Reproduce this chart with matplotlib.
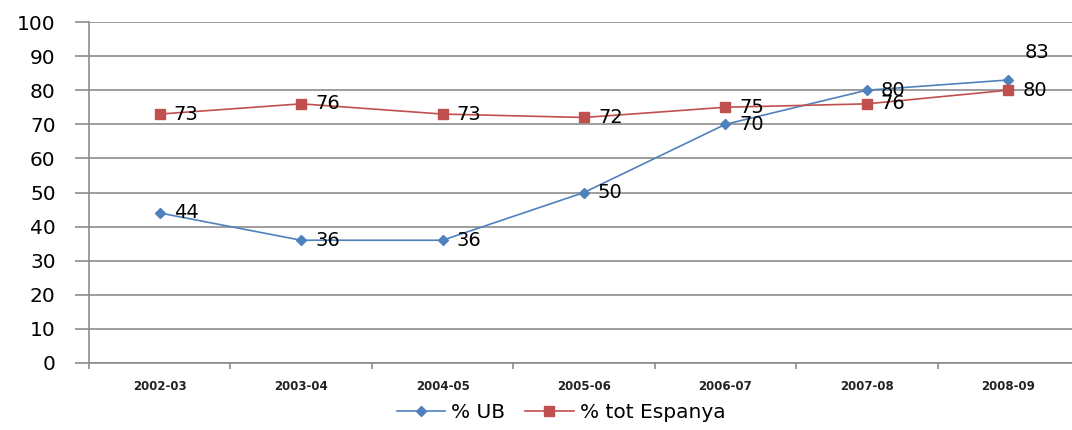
import matplotlib.pyplot as plt
import numpy as np

cursos = ['2002-03', '2003-04', '2004-05', '2005-06', '2006-07', '2007-08', '2008-09']
pct_ub = [44, 36, 36, 50, 70, 80, 83]
pct_espanya = [73, 76, 73, 72, 75, 76, 80]

blue = '#4F81BD'
red = '#C0504D'
grid_col = '#8C8C8C'

fig = plt.figure(figsize=(10.72, 4.30), dpi=100)
ax = fig.add_axes([89 / 1072, 1 - 363 / 430, 990 / 1072, 341 / 430])

x = np.arange(len(cursos))
ax.plot(x, pct_ub, color=blue, lw=1.2, marker='D', ms=5.5, label='% UB')
ax.plot(x, pct_espanya, color=red, lw=1.2, marker='s', ms=7.5, label='% tot Espanya')

# data labels to the right of each point
for xi, v in zip(x, pct_espanya):
    ax.annotate(str(v), (xi, v), xytext=(10, 0), textcoords='offset points',
                va='center', ha='left', fontsize=14)
for xi, v in zip(x, pct_ub):
    off = (12, 20) if xi == len(x) - 1 else (10, 0)
    ax.annotate(str(v), (xi, v), xytext=off, textcoords='offset points',
                va='center', ha='left', fontsize=14)

ax.set_xlim(-0.5, len(cursos) - 0.5)
ax.set_ylim(0, 100)
ax.set_yticks(range(0, 101, 10))
ax.tick_params(axis='y', length=10, color=grid_col, width=1.2, labelsize=14.5, pad=14)
ax.yaxis.grid(True, color=grid_col, lw=1.2)
ax.set_axisbelow(True)

ax.set_xticks(x)
ax.set_xticklabels(cursos, fontsize=8.5, fontweight='bold', color='#222222')
ax.set_xticks(np.arange(-0.5, len(cursos)), minor=True)
ax.tick_params(axis='x', which='major', length=0, pad=12)
ax.tick_params(axis='x', which='minor', length=4, color=grid_col, width=1.2)

for side in ['top', 'right']:
    ax.spines[side].set_visible(False)
for side in ['left', 'bottom']:
    ax.spines[side].set_color(grid_col)
    ax.spines[side].set_linewidth(1.2)

fig.legend(loc='center', bbox_to_anchor=(561 / 1072, 1 - 413 / 430), ncol=2,
           frameon=False, fontsize=14.5, handlelength=2.4, columnspacing=1.0,
           handletextpad=0.3)

fig.savefig('out.png', dpi=100)
